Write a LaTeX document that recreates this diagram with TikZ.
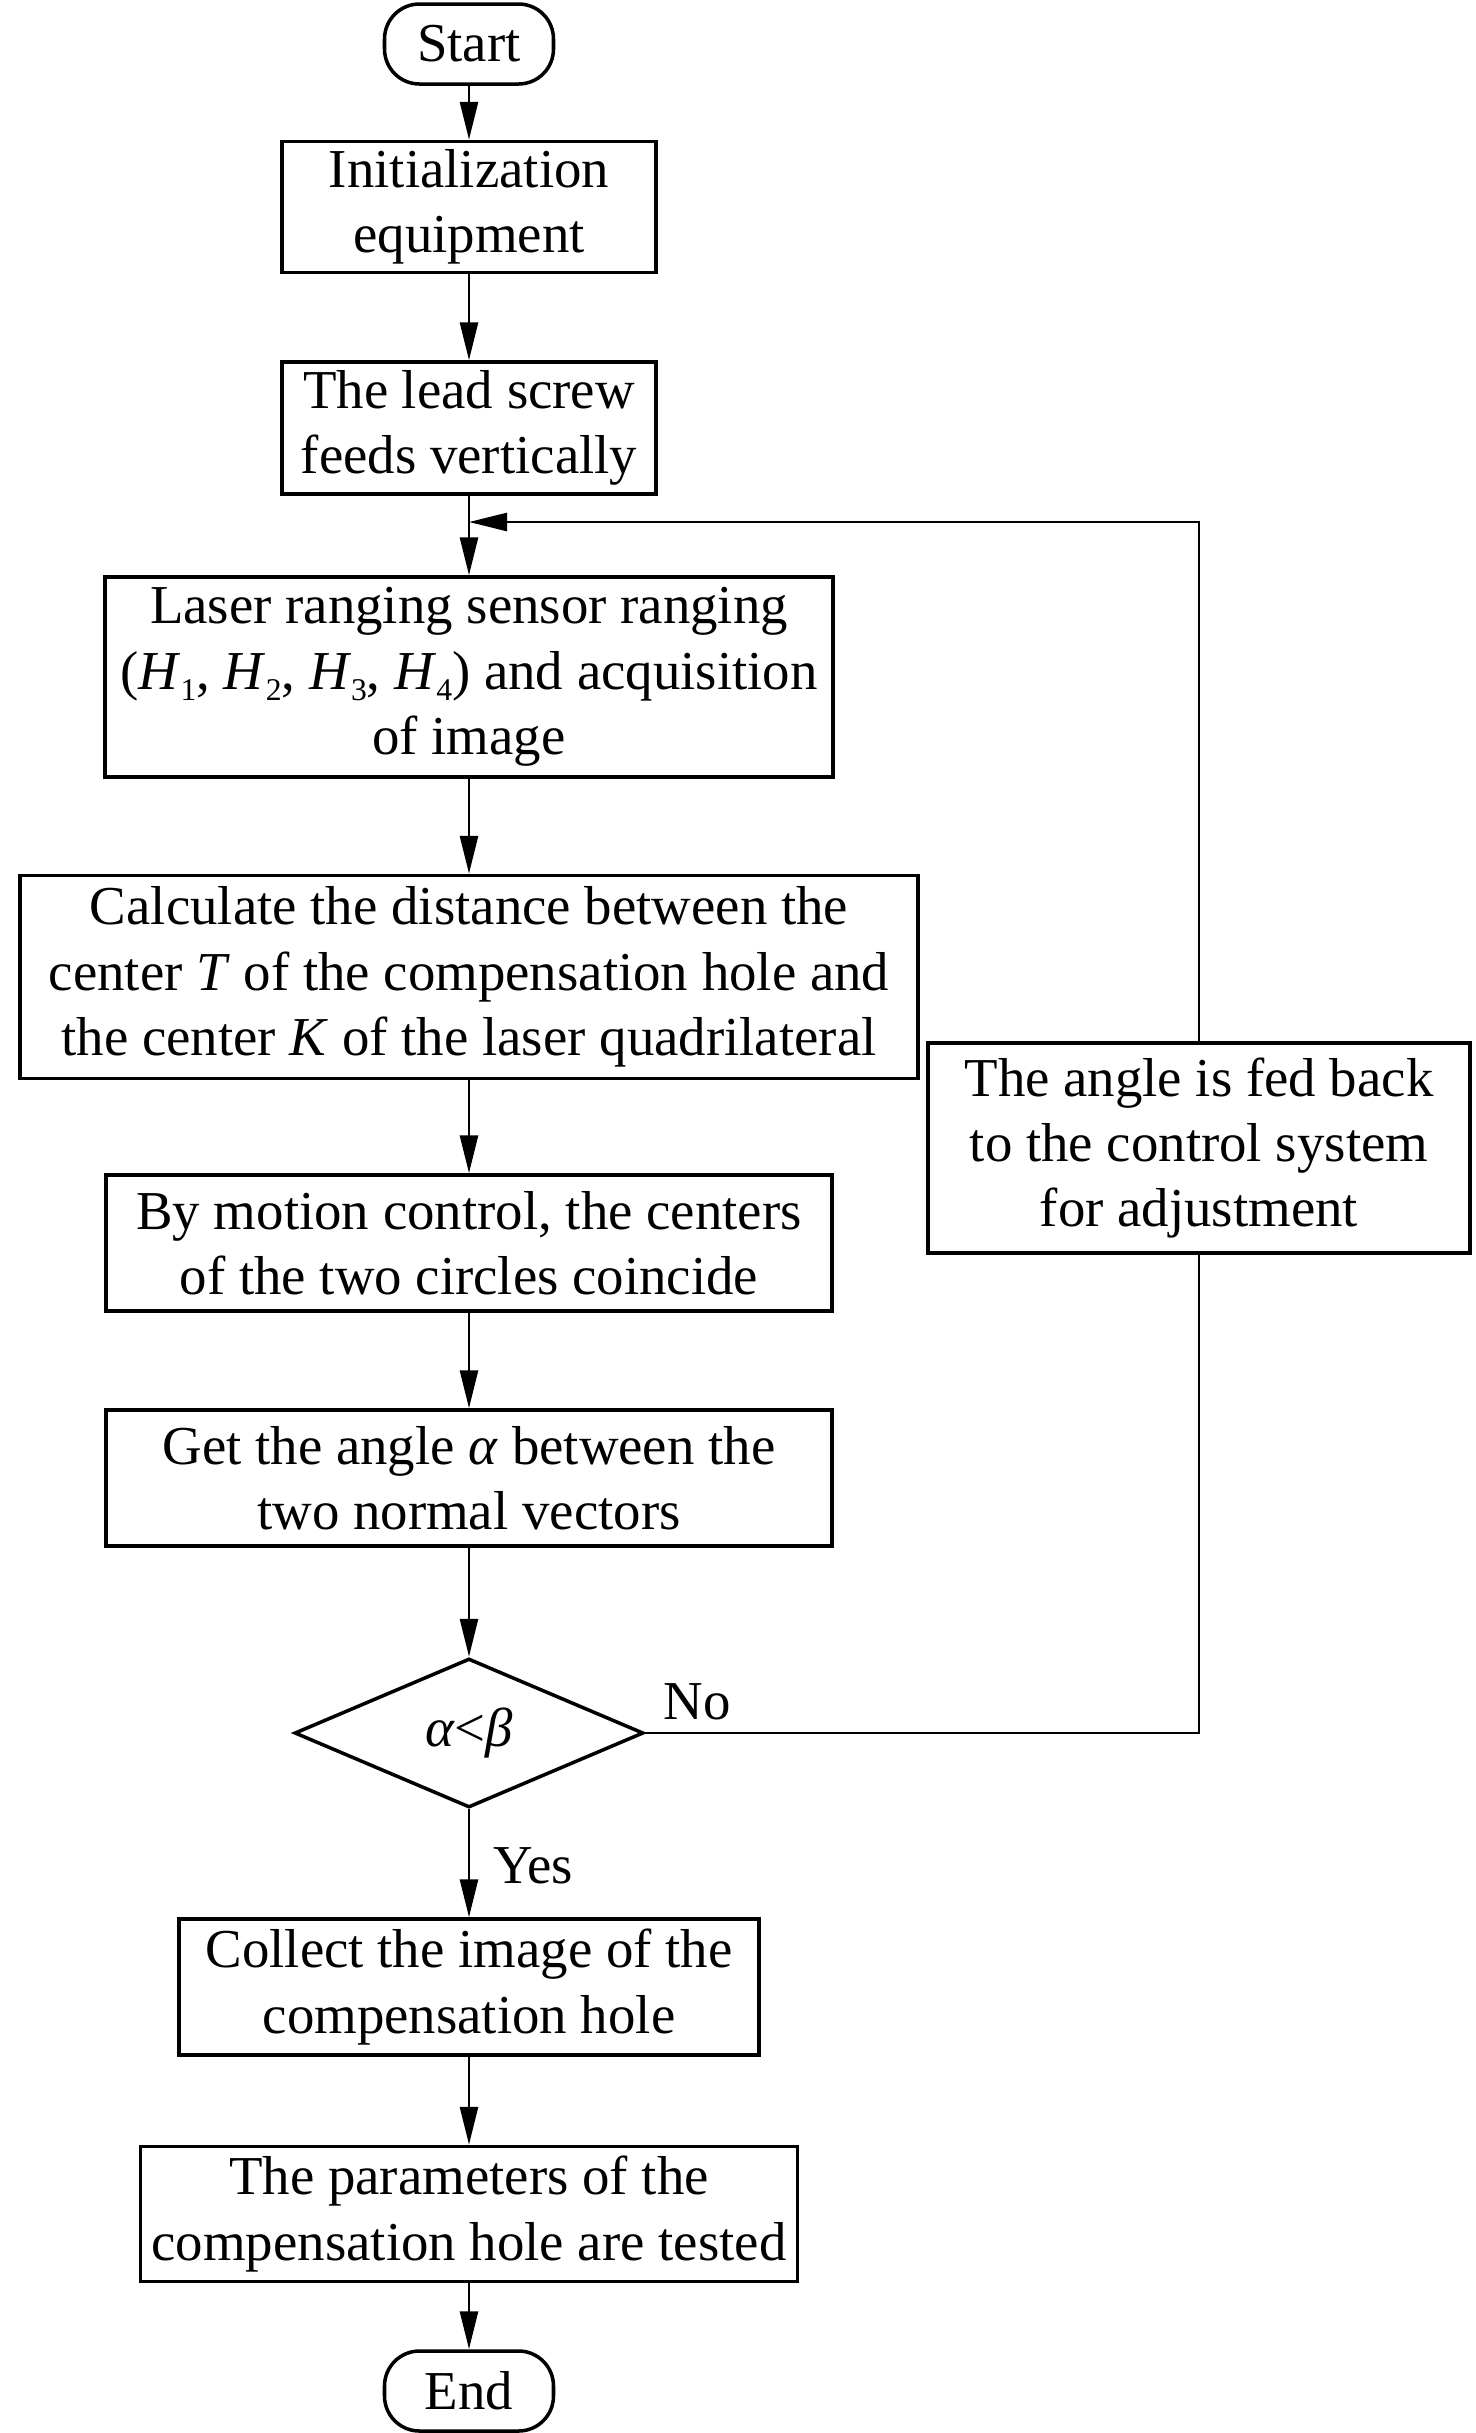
\documentclass[tikz,border=0pt]{standalone}
\usepackage{fontspec}
\setmainfont{Liberation Serif}
\usetikzlibrary{shapes.geometric,arrows.meta}
\newcommand{\hsub}[1]{\textit{H}\raisebox{-0.45ex}{\fontsize{9}{9}\selectfont #1}}

\begin{document}
\begin{tikzpicture}
    [x=0.1mm,y=-0.1mm,>={Triangle[length=3.8mm,width=1.8mm]},
     every node/.style={font=\fontsize{15.6}{18.6}\selectfont,inner sep=0pt,align=center},
     box/.style={draw,line width=1pt,rectangle},
     term/.style={draw,line width=1pt,rectangle,rounded corners=3.5mm,minimum width=16.9mm,minimum height=8mm},
     decide/.style={draw,line width=1pt,diamond,minimum width=34.9mm,minimum height=14.9mm},
     link/.style={line width=0.75pt}]
    \useasboundingbox (0,0) rectangle (1476,2433);
    \node[term] (start) at (469,44) {Start};
    \node[box,minimum width=37.4mm,minimum height=13.1mm] (init) at (469,207) {Initialization\\equipment};
    \node[box,minimum width=37.4mm,minimum height=13.2mm] (screw) at (469,428) {The lead screw\\feeds vertically};
    \node[box,minimum width=72.8mm,minimum height=20mm] (laser) at (469,677)
        {Laser ranging sensor ranging\\(\hsub{1}, \hsub{2}, \hsub{3}, \hsub{4}) and acquisition\\of image};
    \node[box,minimum width=89.8mm,minimum height=20.3mm] (calc) at (469,977)
        {Calculate the distance between the\\center \textit{T} of the compensation hole and\\the center \textit{K} of the laser quadrilateral};
    \node[box,minimum width=72.6mm,minimum height=13.6mm] (motion) at (469,1243) {By motion control, the centers\\of the two circles coincide};
    \node[box,minimum width=72.6mm,minimum height=13.6mm] (angle) at (469,1478) {Get the angle \textit{α} between the\\two normal vectors};
    \node[decide] (check) at (469,1733) {\textit{α}<\textit{β}};
    \node[box,minimum width=58mm,minimum height=13.6mm] (collect) at (469,1987) {Collect the image of the\\compensation hole};
    \node[box,minimum width=65.7mm,minimum height=13.5mm] (params) at (469,2214) {The parameters of the\\compensation hole are tested};
    \node[term] (end) at (469,2391) {End};
    \node[box,minimum width=54.2mm,minimum height=21mm] (feedback) at (1199,1148)
        {The angle is fed back\\to the control system\\for adjustment};
    \node (no) at (697,1702) {No};
    \node (yes) at (533,1866) {Yes};
    \coordinate (loop) at (469,522);
    \draw[link,->] (start) -- (init);
    \draw[link,->] (init) -- (screw);
    \draw[link,->] (screw) -- (laser);
    \draw[link,->] (laser) -- (calc);
    \draw[link,->] (calc) -- (motion);
    \draw[link,->] (motion) -- (angle);
    \draw[link,->] (angle) -- (check);
    \draw[link,->] (check) -- (collect);
    \draw[link,->] (collect) -- (params);
    \draw[link,->] (params) -- (end);
    \draw[link] (check.east) -| (feedback.south);
    \draw[link,->] (feedback.north) |- (loop);
  \end{tikzpicture}
\end{document}
